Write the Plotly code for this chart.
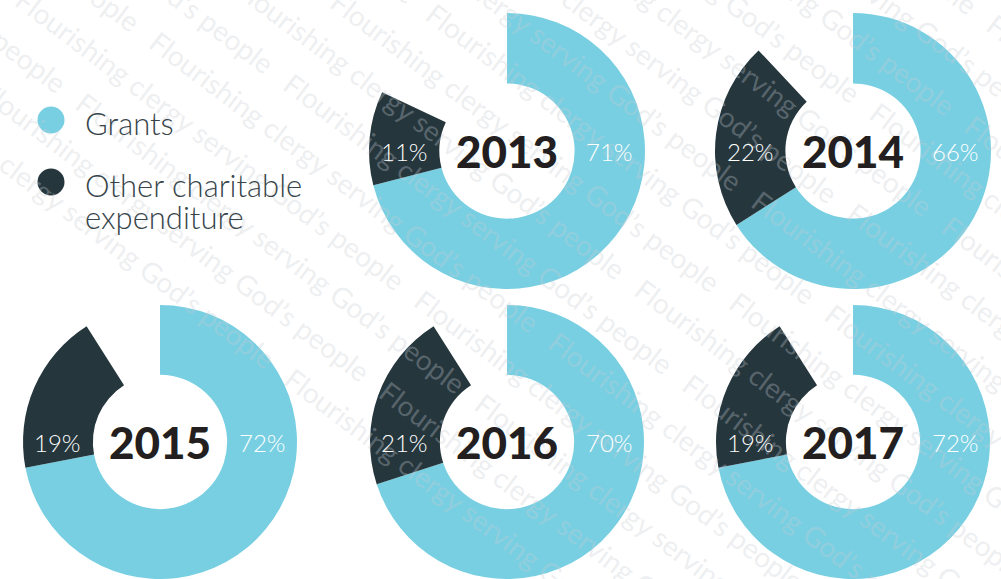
import math
import plotly.graph_objects as go

# ---- data ----
years = ["2013", "2014", "2015", "2016", "2017"]
grants = [71, 66, 72, 70, 72]
other = [11, 22, 19, 21, 19]
series_names = ["Grants", "Other charitable expenditure"]
watermark_text = "Flourishing clergy serving God\u2019s people"

# ---- style / layout ----
W, H = 1001, 579
BLUE = "#78CFE2"
DARK = "#25363D"
YEAR_COLOR = "#231F20"
LEGEND_TEXT = "#37444A"
HOLE = 0.49

# pixel centres and radii of the five donuts
centers = [(507, 151, 138), (853, 151, 138), (160, 442, 137), (507, 442, 137), (853, 442, 137)]

fig = go.Figure()
annotations = []

# ---- watermark (diagonal repeated text) ----
ang = math.radians(37)
d = (math.cos(ang), math.sin(ang))          # text direction (y down)
n = (math.sin(ang), -math.cos(ang))         # normal pointing up-right
P0 = (230.0, 330.0)
spacing = 47
line_txt = "   ".join([watermark_text] * 4)
for k in range(0, 20):
    qx, qy = P0[0] + k * spacing * n[0], P0[1] + k * spacing * n[1]
    ts = []
    for edge_x in (0.0, W):
        t = (edge_x - qx) / d[0]
        y = qy + t * d[1]
        if 0 <= y <= H:
            ts.append(t)
    for edge_y in (0.0, H):
        t = (edge_y - qy) / d[1]
        x = qx + t * d[0]
        if 0 <= x <= W:
            ts.append(t)
    if len(ts) < 2:
        continue
    tm = (min(ts) + max(ts)) / 2 + (k % 3) * 70
    mx, my = qx + tm * d[0], qy + tm * d[1]
    annotations.append(dict(
        x=mx / W, y=1 - my / H, xref="paper", yref="paper",
        text=line_txt, showarrow=False, textangle=37,
        xanchor="center", yanchor="middle",
        font=dict(family="Lato", size=28, color="rgba(200,204,210,0.32)"),
    ))

# ---- donuts ----
for i, yr in enumerate(years):
    cx, cy, r = centers[i]
    g, o = grants[i], other[i]
    rest = 100 - g - o
    xd = [max(0, (cx - r) / W), min(1, (cx + r) / W)]
    yd = [max(0, (H - cy - r) / H), min(1, (H - cy + r) / H)]
    fig.add_trace(go.Pie(
        values=[g, o, rest],
        labels=[series_names[0], series_names[1], "Remainder"],
        marker=dict(colors=[BLUE, DARK, "rgba(0,0,0,0)"], line=dict(width=0)),
        hole=HOLE, sort=False, direction="clockwise", rotation=0,
        textinfo="none", hoverinfo="skip", showlegend=False,
        domain=dict(x=xd, y=yd), name=yr,
    ))
    mid = r * (1 + HOLE) / 2
    annotations.append(dict(
        x=(cx + mid) / W, y=1 - cy / H, xref="paper", yref="paper",
        text=f"{g}%", showarrow=False, xanchor="center", yanchor="middle",
        font=dict(family="Lato", size=24, color="white", weight=300),
    ))
    annotations.append(dict(
        x=(cx - mid) / W, y=1 - cy / H, xref="paper", yref="paper",
        text=f"{o}%", showarrow=False, xanchor="center", yanchor="middle",
        font=dict(family="Lato", size=24, color="white", weight=300),
    ))
    annotations.append(dict(
        x=cx / W, y=1 - cy / H, xref="paper", yref="paper",
        text=yr, showarrow=False, xanchor="center", yanchor="middle",
        font=dict(family="Lato", size=44, color=YEAR_COLOR, weight=900),
    ))

# ---- legend ----
shapes = []
legend_items = [(series_names[0], BLUE, 120, ["Grants"]),
                (series_names[1], DARK, 182, ["Other charitable", "expenditure"])]
for name, col, yc, lines in legend_items:
    shapes.append(dict(
        type="circle", xref="paper", yref="paper",
        xsizemode="pixel", ysizemode="pixel",
        xanchor=51 / W, yanchor=1 - yc / H,
        x0=-13.5, x1=13.5, y0=-13.5, y1=13.5,
        fillcolor=col, line=dict(width=0),
    ))
    for j, ln in enumerate(lines):
        annotations.append(dict(
            x=83 / W, y=1 - (yc + 3 + j * 32) / H, xref="paper", yref="paper",
            text=ln, showarrow=False, xanchor="left", yanchor="middle",
            font=dict(family="Lato", size=31, color=LEGEND_TEXT, weight=300),
        ))

fig.update_layout(
    width=W, height=H,
    margin=dict(l=0, r=0, t=0, b=0),
    paper_bgcolor="white", plot_bgcolor="white",
    showlegend=False,
    annotations=annotations,
    shapes=shapes,
)

fig.write_html("out.html", config={"displayModeBar": False},
               post_script="document.body.style.margin='0px';")
